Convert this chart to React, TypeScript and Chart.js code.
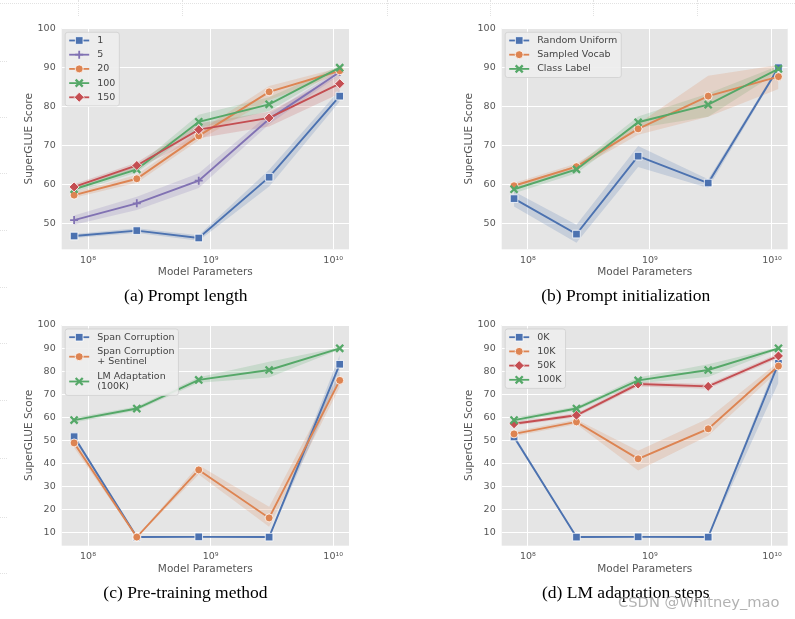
import React, { useEffect, useRef } from "react";
import { Chart, registerables } from "chart.js";

Chart.register(...registerables);

const FONT = '"DejaVu Sans", "Noto Sans", sans-serif';
const TEXT = "#555555";

// ---------- shared axes ----------
const modelParams = [7.7e7, 2.5e8, 8.0e8, 3.0e9, 1.13e10];
const xTickValues = [1e8, 1e9, 1e10];
const xTickLabels = ["10⁸", "10⁹", "10¹⁰"];
const xRange = [6.1e7, 1.345e10];
const yTicksUpper = [50, 60, 70, 80, 90, 100];
const yTicksLower = [10, 20, 30, 40, 50, 60, 70, 80, 90, 100];

// ---------- (a) Prompt length ----------
const lengthLabels = ["1", "5", "20", "100", "150"];
const len1 = [46.7, 48.1, 46.2, 61.8, 82.6];
const len1Lo = [46.2, 47.5, 45.5, 59.4, 81.2];
const len1Hi = [47.2, 48.7, 46.9, 63.7, 84.2];
const len5 = [50.8, 55.1, 60.9, 76.7, 88.8];
const len5Lo = [49.6, 53.4, 59.0, 75.4, 88.1];
const len5Hi = [52.0, 56.8, 62.8, 78.0, 89.5];
const len20 = [57.2, 61.4, 72.4, 83.7, 89.1];
const len20Lo = [56.5, 60.4, 71.3, 81.6, 88.3];
const len20Hi = [57.9, 62.4, 73.5, 85.2, 89.9];
const len100 = [58.7, 63.8, 76.0, 80.5, 89.9];
const len100Lo = [57.9, 63.0, 74.4, 78.8, 89.4];
const len100Hi = [59.5, 64.6, 77.8, 82.3, 90.4];
const len150 = [59.3, 64.8, 74.0, 77.0, 85.8];
const len150Lo = [58.6, 64.0, 71.8, 74.8, 83.3];
const len150Hi = [60.0, 65.6, 75.6, 78.6, 88.0];

// ---------- (b) Prompt initialization ----------
const initLabels = ["Random Uniform", "Sampled Vocab", "Class Label"];
const initRandom = [56.3, 47.2, 67.2, 60.3, 89.9];
const initRandomLo = [54.3, 45.0, 64.4, 59.0, 89.4];
const initRandomHi = [58.1, 49.6, 69.8, 61.3, 90.4];
const initVocab = [59.6, 64.5, 74.2, 82.6, 87.6];
const initVocabLo = [58.9, 63.7, 72.7, 77.3, 84.4];
const initVocabHi = [60.3, 65.3, 75.5, 87.8, 90.6];
const initClass = [58.7, 63.8, 75.9, 80.4, 89.6];
const initClassLo = [57.7, 62.8, 74.4, 77.3, 88.8];
const initClassHi = [59.7, 64.8, 77.4, 83.3, 90.4];

// ---------- (c) Pre-training method ----------
const pretrainLabels = ["Span Corruption", "Span Corruption\n+ Sentinel", "LM Adaptation\n(100K)"];
const spanCorr = [51.6, 8.1, 8.2, 8.1, 83.0];
const spanCorrLo = [50.6, 7.8, 7.9, 7.8, 77.0];
const spanCorrHi = [52.6, 8.4, 8.5, 8.4, 87.0];
const spanSentinel = [48.9, 8.1, 37.2, 16.4, 76.0];
const spanSentinelLo = [46.8, 7.8, 35.2, 12.6, 73.0];
const spanSentinelHi = [51.0, 8.4, 39.2, 21.2, 79.0];
const lmAdapt = [58.8, 63.8, 76.2, 80.5, 89.9];
const lmAdaptLo = [57.8, 62.9, 75.0, 77.3, 89.4];
const lmAdaptHi = [59.8, 64.7, 77.4, 84.1, 90.4];

// ---------- (d) LM adaptation steps ----------
const stepLabels = ["0K", "10K", "50K", "100K"];
const steps0 = [51.5, 8.1, 8.2, 8.1, 83.4];
const steps0Lo = [50.5, 7.8, 7.9, 7.8, 75.0];
const steps0Hi = [52.5, 8.4, 8.5, 8.4, 86.0];
const steps10 = [52.8, 58.0, 42.0, 55.0, 82.2];
const steps10Lo = [51.8, 57.0, 37.0, 52.0, 80.2];
const steps10Hi = [53.8, 59.0, 45.5, 59.5, 84.0];
const steps50 = [57.2, 60.9, 74.4, 73.4, 86.6];
const steps50Lo = [56.4, 60.0, 73.4, 72.4, 85.6];
const steps50Hi = [58.0, 61.8, 75.4, 74.4, 87.6];
const steps100 = [58.8, 63.8, 76.0, 80.5, 89.9];
const steps100Lo = [57.8, 62.9, 74.8, 77.5, 89.4];
const steps100Hi = [59.8, 64.7, 77.2, 83.0, 90.4];

const captions = ["(a) Prompt length", "(b) Prompt initialization", "(c) Pre-training method", "(d) LM adaptation steps"];

// ---------- styles ----------
const BLUE = "#4C72B0";
const ORANGE = "#DD8452";
const GREEN = "#55A868";
const RED = "#C44E52";
const PURPLE = "#8172B3";

type Marker = { pointStyle: string; radius: number; edge: string | null; width: number };
const SQUARE: Marker = { pointStyle: "rect", radius: 5.4, edge: "#ffffff", width: 0.8 };
const CIRCLE: Marker = { pointStyle: "circle", radius: 4.0, edge: "#ffffff", width: 0.8 };
const DIAMOND: Marker = { pointStyle: "rectRot", radius: 5.0, edge: "#ffffff", width: 0.8 };
const PLUS: Marker = { pointStyle: "cross", radius: 4.0, edge: null, width: 1.8 };
const XMARK: Marker = { pointStyle: "crossRot", radius: 5.0, edge: null, width: 2.3 };

type Series = { label: string; values: number[]; lo: number[]; hi: number[]; color: string; marker: Marker };

function rgba(hex: string, a: number) {
  const n = parseInt(hex.slice(1), 16);
  return `rgba(${(n >> 16) & 255},${(n >> 8) & 255},${n & 255},${a})`;
}

function pts(arr: number[]) {
  return arr.map((y, i) => ({ x: modelParams[i], y }));
}

function buildDatasets(series: Series[]) {
  const ds: any[] = [];
  series.forEach((s) => {
    ds.push({
      isBand: true, data: pts(s.lo), borderWidth: 0, borderColor: "rgba(0,0,0,0)",
      pointRadius: 0, fill: false, order: 100,
    });
    ds.push({
      isBand: true, data: pts(s.hi), borderWidth: 0, borderColor: "rgba(0,0,0,0)",
      pointRadius: 0, fill: "-1", backgroundColor: rgba(s.color, 0.2), order: 100,
    });
  });
  series.forEach((s, i) => {
    ds.push({
      label: s.label,
      data: pts(s.values),
      borderColor: s.color,
      backgroundColor: s.color,
      borderWidth: 1.9,
      fill: false,
      pointStyle: s.marker.pointStyle,
      pointRadius: s.marker.radius,
      pointBackgroundColor: s.color,
      pointBorderColor: s.marker.edge || s.color,
      pointBorderWidth: s.marker.width,
      markerDef: s.marker,
      order: series.length - i,
    });
  });
  return ds;
}

function drawMarker(ctx: CanvasRenderingContext2D, m: Marker, color: string, x: number, y: number) {
  const r = m.radius;
  ctx.save();
  ctx.fillStyle = color;
  ctx.strokeStyle = m.edge || color;
  ctx.lineWidth = m.width;
  ctx.beginPath();
  if (m.pointStyle === "rect") {
    const s = Math.SQRT1_2 * r;
    ctx.rect(x - s, y - s, 2 * s, 2 * s);
    ctx.fill();
    ctx.stroke();
  } else if (m.pointStyle === "circle") {
    ctx.arc(x, y, r, 0, Math.PI * 2);
    ctx.fill();
    ctx.stroke();
  } else if (m.pointStyle === "rectRot") {
    ctx.moveTo(x - r, y);
    ctx.lineTo(x, y - r);
    ctx.lineTo(x + r, y);
    ctx.lineTo(x, y + r);
    ctx.closePath();
    ctx.fill();
    ctx.stroke();
  } else if (m.pointStyle === "cross") {
    ctx.moveTo(x, y - r);
    ctx.lineTo(x, y + r);
    ctx.moveTo(x - r, y);
    ctx.lineTo(x + r, y);
    ctx.stroke();
  } else if (m.pointStyle === "crossRot") {
    const o = Math.SQRT1_2 * r;
    ctx.moveTo(x - o, y - o);
    ctx.lineTo(x + o, y + o);
    ctx.moveTo(x + o, y - o);
    ctx.lineTo(x - o, y + o);
    ctx.stroke();
  }
  ctx.restore();
}

const plotBgPlugin = {
  id: "plotBg",
  beforeDraw(chart: any) {
    const { ctx, chartArea } = chart;
    ctx.save();
    ctx.fillStyle = "#E5E5E5";
    ctx.fillRect(chartArea.left, chartArea.top, chartArea.right - chartArea.left, chartArea.bottom - chartArea.top);
    ctx.restore();
  },
};

const lineLegendPlugin = {
  id: "lineLegend",
  afterDatasetsDraw(chart: any) {
    const ctx: CanvasRenderingContext2D = chart.ctx;
    const ca = chart.chartArea;
    const items = chart.data.datasets.filter((d: any) => !d.isBand);
    ctx.save();
    ctx.font = `9.5px ${FONT}`;
    const bx = ca.left + 3.5;
    const by = ca.top + 4;
    const rows: any[] = [];
    let y = by + 8.2;
    let maxW = 0;
    items.forEach((d: any) => {
      const lines = String(d.label).split("\n");
      const ys = lines.map((_: string, k: number) => y + k * 10.6);
      rows.push({ lines, ys, cy: (ys[0] + ys[ys.length - 1]) / 2, d });
      lines.forEach((l: string) => (maxW = Math.max(maxW, ctx.measureText(l).width)));
      y = ys[ys.length - 1] + 14.2;
    });
    const lastYs = rows[rows.length - 1].ys;
    const bh = lastYs[lastYs.length - 1] + 8.6 - by;
    const bw = 32 + maxW + 4;
    ctx.beginPath();
    const rr = 2.5;
    ctx.moveTo(bx + rr, by);
    ctx.lineTo(bx + bw - rr, by);
    ctx.arcTo(bx + bw, by, bx + bw, by + rr, rr);
    ctx.lineTo(bx + bw, by + bh - rr);
    ctx.arcTo(bx + bw, by + bh, bx + bw - rr, by + bh, rr);
    ctx.lineTo(bx + rr, by + bh);
    ctx.arcTo(bx, by + bh, bx, by + bh - rr, rr);
    ctx.lineTo(bx, by + rr);
    ctx.arcTo(bx, by, bx + rr, by, rr);
    ctx.closePath();
    ctx.fillStyle = "rgba(237,237,237,0.9)";
    ctx.fill();
    ctx.strokeStyle = "#CFCFCF";
    ctx.lineWidth = 0.8;
    ctx.stroke();
    rows.forEach((r: any) => {
      const color = r.d.borderColor;
      ctx.beginPath();
      ctx.strokeStyle = color;
      ctx.lineWidth = 1.8;
      ctx.moveTo(bx + 4, r.cy);
      ctx.lineTo(bx + 24, r.cy);
      ctx.stroke();
      drawMarker(ctx, r.d.markerDef, color, bx + 14, r.cy);
      ctx.fillStyle = "#444444";
      ctx.textBaseline = "middle";
      ctx.textAlign = "left";
      r.lines.forEach((l: string, k: number) => ctx.fillText(l, bx + 32, r.ys[k]));
    });
    ctx.restore();
  },
};

type PanelSpec = {
  left: number; top: number; w: number; h: number;
  padding: { left: number; top: number; right: number; bottom: number };
  yMin: number; yTicks: number[]; series: Series[];
};

function makeConfig(p: PanelSpec): any {
  return {
    type: "line",
    data: { datasets: buildDatasets(p.series) },
    options: {
      animation: false,
      responsive: false,
      maintainAspectRatio: false,
      events: [],
      layout: { padding: p.padding },
      plugins: {
        legend: { display: false },
        tooltip: { enabled: false },
        title: { display: false },
        filler: { propagate: false },
      },
      scales: {
        x: {
          type: "logarithmic",
          min: xRange[0],
          max: xRange[1],
          grid: { color: "#FFFFFF", lineWidth: 1, drawTicks: false },
          border: { display: false },
          ticks: {
            autoSkip: false,
            maxRotation: 0,
            padding: 5.5,
            color: TEXT,
            font: { family: FONT, size: 9.5 },
            callback: (v: number) => xTickLabels[xTickValues.indexOf(v)] ?? "",
          },
          afterBuildTicks: (s: any) => {
            s.ticks = xTickValues.map((v) => ({ value: v }));
          },
          afterFit: (s: any) => {
            s.height = 30;
          },
          title: {
            display: true,
            text: "Model Parameters",
            color: TEXT,
            font: { family: FONT, size: 10.5 },
            padding: { top: 0, bottom: 0.5 },
          },
        },
        y: {
          type: "linear",
          min: p.yMin,
          max: 100,
          grid: { color: "#FFFFFF", lineWidth: 1, drawTicks: false },
          border: { display: false },
          ticks: {
            padding: 6,
            color: TEXT,
            font: { family: FONT, size: 9.5 },
          },
          afterBuildTicks: (s: any) => {
            s.ticks = p.yTicks.map((v) => ({ value: v }));
          },
          afterFit: (s: any) => {
            s.width = 61.7;
          },
          title: {
            display: true,
            text: "SuperGLUE Score",
            color: TEXT,
            font: { family: FONT, size: 10.5 },
            padding: { top: 22.7, bottom: 0 },
          },
        },
      },
    },
    plugins: [plotBgPlugin, lineLegendPlugin],
  };
}

function ChartPanel({ spec }: { spec: PanelSpec }) {
  const ref = useRef<HTMLCanvasElement | null>(null);
  useEffect(() => {
    if (!ref.current) return;
    const chart = new Chart(ref.current, makeConfig(spec));
    return () => chart.destroy();
  }, [spec]);
  return (
    <canvas
      ref={ref}
      width={spec.w}
      height={spec.h}
      style={{ position: "absolute", left: spec.left, top: spec.top, width: spec.w, height: spec.h }}
    />
  );
}

const panelA: PanelSpec = {
  left: 0, top: 0, w: 395, h: 290,
  padding: { left: 0, top: 28.3, right: 46, bottom: 10.7 },
  yMin: 43.3, yTicks: yTicksUpper,
  series: [
    { label: lengthLabels[0], values: len1, lo: len1Lo, hi: len1Hi, color: BLUE, marker: SQUARE },
    { label: lengthLabels[1], values: len5, lo: len5Lo, hi: len5Hi, color: PURPLE, marker: PLUS },
    { label: lengthLabels[2], values: len20, lo: len20Lo, hi: len20Hi, color: ORANGE, marker: CIRCLE },
    { label: lengthLabels[3], values: len100, lo: len100Lo, hi: len100Hi, color: GREEN, marker: XMARK },
    { label: lengthLabels[4], values: len150, lo: len150Lo, hi: len150Hi, color: RED, marker: DIAMOND },
  ],
};

const panelB: PanelSpec = {
  left: 440, top: 0, w: 355, h: 290,
  padding: { left: 0, top: 28.3, right: 5.7, bottom: 10.7 },
  yMin: 43.3, yTicks: yTicksUpper,
  series: [
    { label: initLabels[0], values: initRandom, lo: initRandomLo, hi: initRandomHi, color: BLUE, marker: SQUARE },
    { label: initLabels[1], values: initVocab, lo: initVocabLo, hi: initVocabHi, color: ORANGE, marker: CIRCLE },
    { label: initLabels[2], values: initClass, lo: initClassLo, hi: initClassHi, color: GREEN, marker: XMARK },
  ],
};

const panelC: PanelSpec = {
  left: 0, top: 300, w: 395, h: 290,
  padding: { left: 0, top: 25, right: 46, bottom: 14.3 },
  yMin: 4.36, yTicks: yTicksLower,
  series: [
    { label: pretrainLabels[0], values: spanCorr, lo: spanCorrLo, hi: spanCorrHi, color: BLUE, marker: SQUARE },
    { label: pretrainLabels[1], values: spanSentinel, lo: spanSentinelLo, hi: spanSentinelHi, color: ORANGE, marker: CIRCLE },
    { label: pretrainLabels[2], values: lmAdapt, lo: lmAdaptLo, hi: lmAdaptHi, color: GREEN, marker: XMARK },
  ],
};

const panelD: PanelSpec = {
  left: 440, top: 300, w: 355, h: 290,
  padding: { left: 0, top: 25, right: 5.7, bottom: 14.3 },
  yMin: 4.36, yTicks: yTicksLower,
  series: [
    { label: stepLabels[0], values: steps0, lo: steps0Lo, hi: steps0Hi, color: BLUE, marker: SQUARE },
    { label: stepLabels[1], values: steps10, lo: steps10Lo, hi: steps10Hi, color: ORANGE, marker: CIRCLE },
    { label: stepLabels[2], values: steps50, lo: steps50Lo, hi: steps50Hi, color: RED, marker: DIAMOND },
    { label: stepLabels[3], values: steps100, lo: steps100Lo, hi: steps100Hi, color: GREEN, marker: XMARK },
  ],
};

const captionPos = [
  { cx: 185.8, top: 285 },
  { cx: 625.8, top: 285 },
  { cx: 185.5, top: 582 },
  { cx: 625.8, top: 582 },
];

// faint page decorations (document background of the screenshot)
const decoTopX = [78, 182, 387, 490, 593, 697];
const decoLeftY = [61, 117, 173, 230, 287, 343, 400, 458, 517, 573];

export default function App() {
  return (
    <div style={{ position: "fixed", left: 0, top: 0, width: 795, height: 619, background: "#ffffff", overflow: "hidden" }}>
      <div style={{ position: "absolute", left: 0, top: 3, width: 795, height: 0, borderTop: "1px dotted #e2e2e2" }} />
      {decoTopX.map((x) => (
        <div key={"v" + x} style={{ position: "absolute", left: x, top: 0, width: 0, height: 16, borderLeft: "1px dotted #e2e2e2" }} />
      ))}
      {decoLeftY.map((y) => (
        <div key={"h" + y} style={{ position: "absolute", left: 0, top: y, width: 7, height: 0, borderTop: "1px dotted #e2e2e2" }} />
      ))}
      <ChartPanel spec={panelA} />
      <ChartPanel spec={panelB} />
      <ChartPanel spec={panelC} />
      <ChartPanel spec={panelD} />
      {captions.map((c, i) => (
        <div
          key={c}
          style={{
            position: "absolute",
            left: captionPos[i].cx - 160,
            width: 320,
            top: captionPos[i].top,
            textAlign: "center",
            fontFamily: '"Liberation Serif", "Times New Roman", serif',
            fontSize: 17.5,
            lineHeight: "20px",
            color: "#000",
          }}
        >
          {c}
        </div>
      ))}
      <div
        style={{
          position: "absolute",
          left: 618,
          top: 592.7,
          fontFamily: FONT,
          fontSize: 14.7,
          lineHeight: "18px",
          color: "rgba(165,165,165,0.85)",
          whiteSpace: "nowrap",
        }}
      >
        CSDN @Whitney_mao
      </div>
    </div>
  );
}
